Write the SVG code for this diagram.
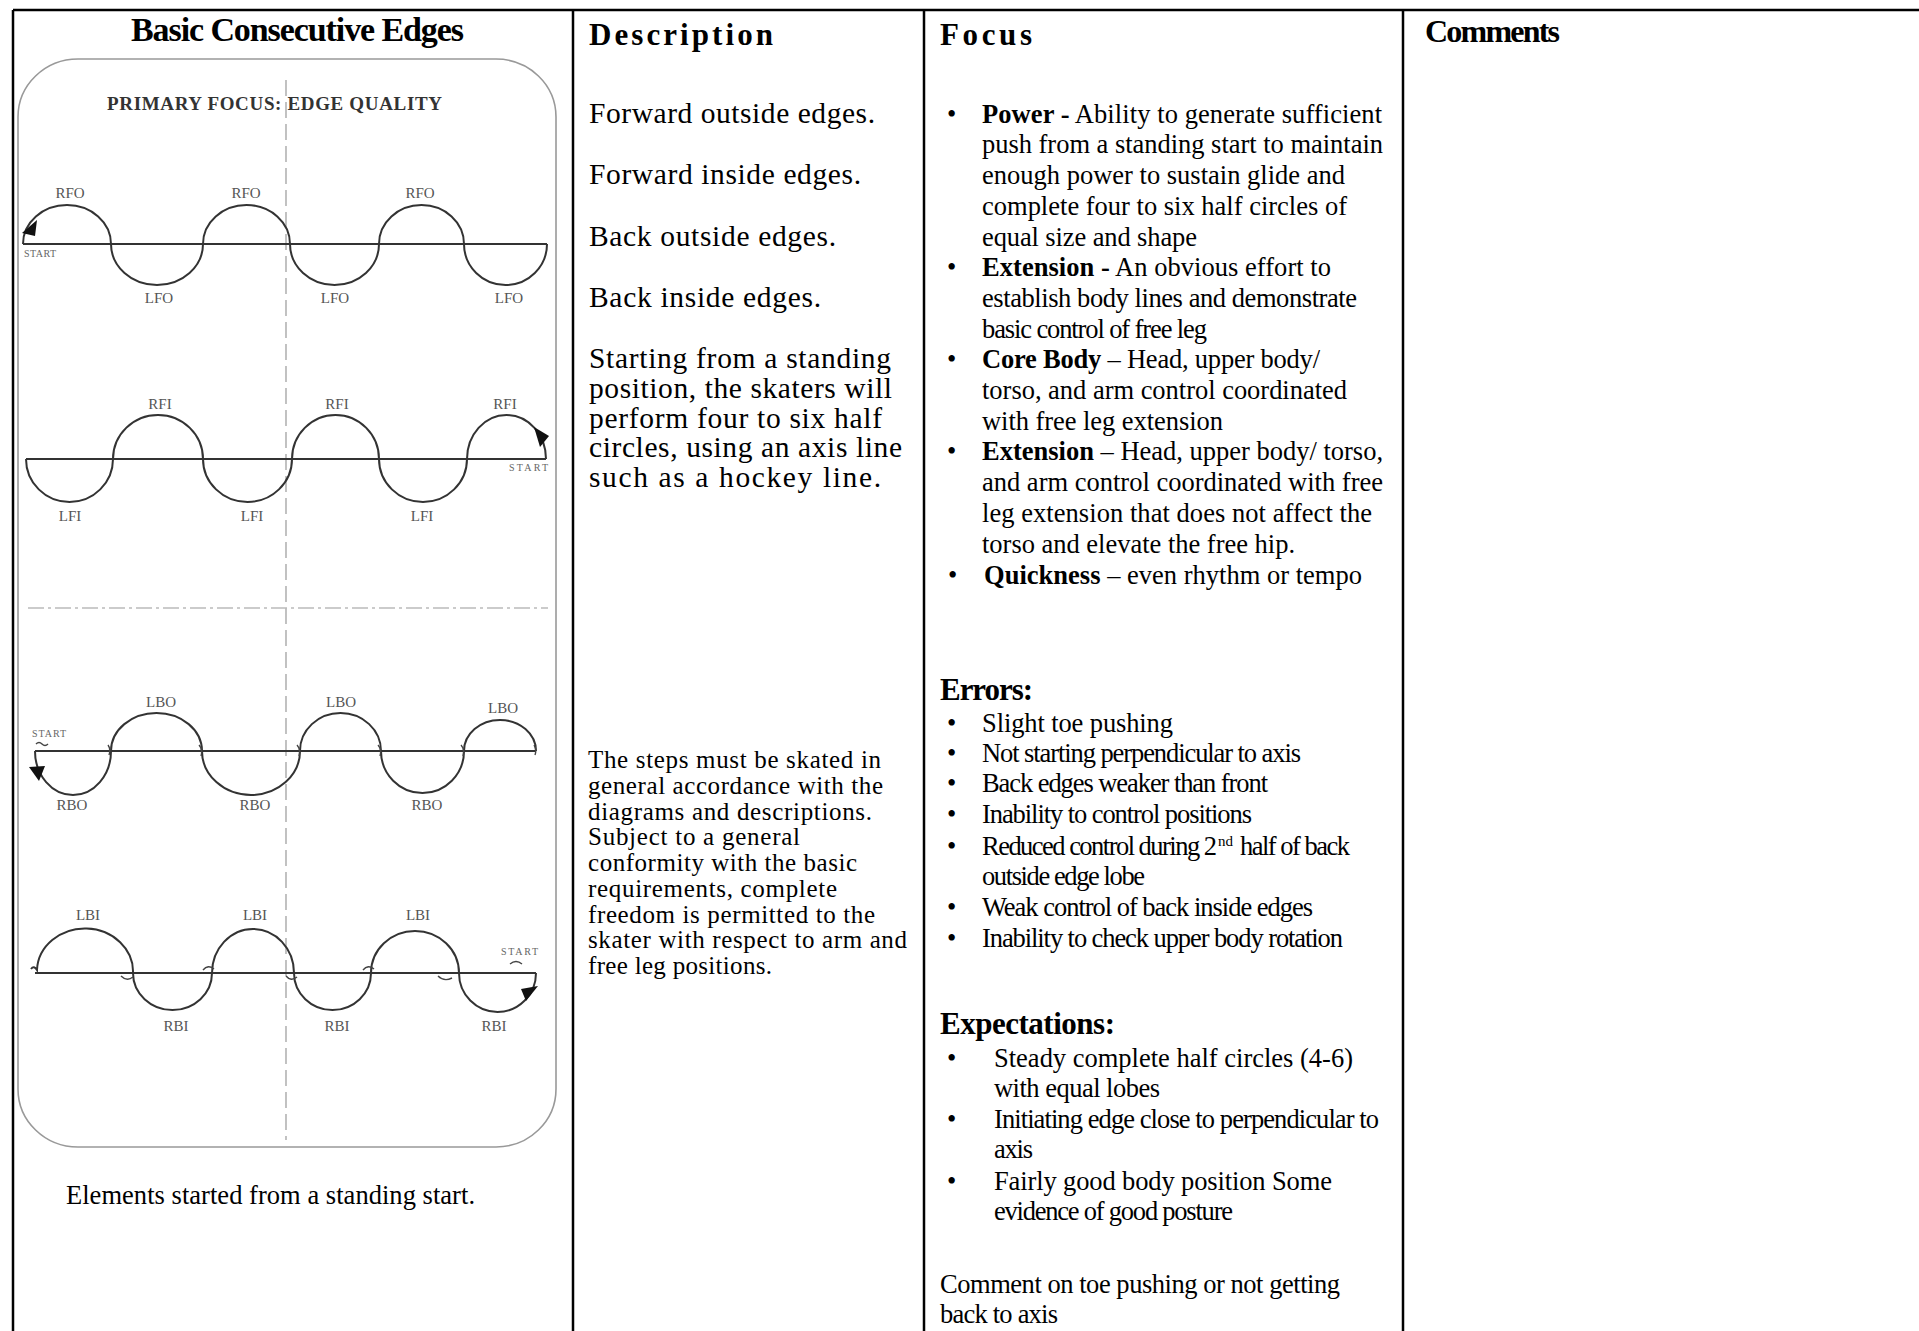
<svg xmlns="http://www.w3.org/2000/svg" width="1919" height="1331" viewBox="0 0 1919 1331">
<style>
.grid{stroke:#000;stroke-width:2.5;fill:none}
.s{font-family:"Liberation Serif","Times New Roman",serif;fill:#000}
.b{font-weight:bold}
.hd{font-family:"Liberation Serif","Times New Roman",serif;font-weight:bold;fill:#000}
.d1{font-size:29.5px}
.d2{font-size:25px}
.f{font-size:26.5px}
.lbl{font-family:"Liberation Serif","Times New Roman",serif;font-size:15px;fill:#555;text-anchor:middle}
.st{font-family:"Liberation Serif","Times New Roman",serif;font-size:10px;fill:#666}
.wave{fill:none;stroke:#333;stroke-width:2}
.hook{fill:none;stroke:#444;stroke-width:1.4}
.rink{fill:none;stroke:#999;stroke-width:1.6}
.arr{fill:#111}
</style>
<rect width="1919" height="1331" fill="#fff"/>

<g id="table-grid">
<line class="grid" x1="13" y1="10" x2="1919" y2="10"/>
<line class="grid" x1="13" y1="10" x2="13" y2="1331"/>
<line class="grid" x1="573" y1="10" x2="573" y2="1331"/>
<line class="grid" x1="924" y1="10" x2="924" y2="1331"/>
<line class="grid" x1="1403" y1="10" x2="1403" y2="1331"/>
</g>

<g id="col-diagram">
<text class="hd" x="131" y="41" font-size="34" textLength="333">Basic Consecutive Edges</text>
<g id="rink">
<rect class="rink" x="18" y="59" width="538" height="1088" rx="60" ry="58"/>
<line x1="286" y1="80" x2="286" y2="1140" stroke="#999" stroke-width="1.2" stroke-dasharray="16 6"/>
<line x1="28" y1="608" x2="548" y2="608" stroke="#bbb" stroke-width="1.6" stroke-dasharray="16 4 3 4"/>
<text class="hd" x="107" y="110" font-size="19" style="fill:#333" textLength="335">PRIMARY FOCUS: EDGE QUALITY</text>
</g>

<g id="row-forward-outside">
<line x1="23" y1="244" x2="547" y2="244" stroke="#333" stroke-width="2"/>
<path class="wave" d="M23,244 A44,39 0 0 1 111,244 A46,41 0 0 0 203,244 A43.5,39 0 0 1 290,244 A44.5,41 0 0 0 379,244 A42.5,39 0 0 1 464,244 A41.5,41 0 0 0 547,244"/>
<polygon class="arr" points="22,233 37,220 35,236"/>
<text class="st" x="24" y="257" textLength="32">START</text>
<text class="lbl" x="70" y="198">RFO</text>
<text class="lbl" x="246" y="198">RFO</text>
<text class="lbl" x="420" y="198">RFO</text>
<text class="lbl" x="159" y="303">LFO</text>
<text class="lbl" x="335" y="303">LFO</text>
<text class="lbl" x="509" y="303">LFO</text>
</g>

<g id="row-forward-inside">
<line x1="26" y1="459" x2="546" y2="459" stroke="#333" stroke-width="2"/>
<path class="wave" d="M26,459 A43.5,43 0 0 0 113,459 A45,44 0 0 1 203,459 A44.5,43 0 0 0 292,459 A43.5,44 0 0 1 379,459 A44,43 0 0 0 467,459 A39.5,44 0 0 1 546,459"/>
<polygon class="arr" points="534,427 549,436 540,447"/>
<text class="st" x="509" y="471" textLength="39">START</text>
<text class="lbl" x="160" y="409">RFI</text>
<text class="lbl" x="337" y="409">RFI</text>
<text class="lbl" x="505" y="409">RFI</text>
<text class="lbl" x="70" y="521">LFI</text>
<text class="lbl" x="252" y="521">LFI</text>
<text class="lbl" x="422" y="521">LFI</text>
</g>

<g id="row-back-outside">
<line x1="35" y1="751" x2="536" y2="751" stroke="#333" stroke-width="2"/>
<path class="wave" d="M35,751 A38,44 0 0 0 111,751 A45.5,38 0 0 1 202,751 A49,44 0 0 0 300,751 A40.5,38 0 0 1 381,751 A41.5,42 0 0 0 464,751 A36,31 0 0 1 536,751"/>
<path class="hook" d="M108,745 q3,4 1,10 M199,745 q4,4 2,11 M297,745 q4,4 2,11 M378,745 q4,4 2,11 M461,745 q4,4 2,11 M534,745 q3,4 1,10"/>
<polygon class="arr" points="29,767 45,766 39,781"/>
<text class="st" x="32" y="737" textLength="34">START</text>
<path class="hook" d="M36,744 q3,-3 6,0 t6,0"/>
<text class="lbl" x="161" y="707">LBO</text>
<text class="lbl" x="341" y="707">LBO</text>
<text class="lbl" x="503" y="713">LBO</text>
<text class="lbl" x="72" y="810">RBO</text>
<text class="lbl" x="255" y="810">RBO</text>
<text class="lbl" x="427" y="810">RBO</text>
</g>

<g id="row-back-inside">
<line x1="35" y1="973" x2="536" y2="973" stroke="#333" stroke-width="2"/>
<path class="wave" d="M31,969 Q34,965 37,970 A48,43 0 0 1 133,973 A39.5,37 0 0 0 212,973 A41,44 0 0 1 294,973 A38.5,37 0 0 0 371,973 A44,42 0 0 1 459,973 A38.5,39 0 0 0 536,973"/>
<path class="hook" d="M121,976 q6,6 12,1 M203,970 q5,-6 11,-1 M286,976 q5,6 11,1 M363,970 q5,-6 11,-1 M438,976 q6,6 14,2"/>
<polygon class="arr" points="521,989 538,986 526,1001"/>
<text class="st" x="501" y="955" textLength="37">START</text>
<path class="hook" d="M510,964 q6,-5 12,0"/>
<text class="lbl" x="88" y="920">LBI</text>
<text class="lbl" x="255" y="920">LBI</text>
<text class="lbl" x="418" y="920">LBI</text>
<text class="lbl" x="176" y="1031">RBI</text>
<text class="lbl" x="337" y="1031">RBI</text>
<text class="lbl" x="494" y="1031">RBI</text>
</g>

<text class="s f" x="66" y="1204" textLength="409">Elements started from a standing start.</text>
</g>

<g id="col-description">
<text class="hd" x="589" y="45" font-size="31" textLength="184">Description</text>
<text class="s d1" x="589" y="123" textLength="286">Forward outside edges.</text>
<text class="s d1" x="589" y="184" textLength="272">Forward inside edges.</text>
<text class="s d1" x="589" y="246" textLength="247">Back outside edges.</text>
<text class="s d1" x="589" y="307" textLength="232">Back inside edges.</text>
<text class="s d1" x="589" y="368" textLength="302">Starting from a standing</text>
<text class="s d1" x="589" y="398" textLength="303">position, the skaters will</text>
<text class="s d1" x="589" y="428" textLength="293">perform four to six half</text>
<text class="s d1" x="589" y="457" textLength="313">circles, using an axis line</text>
<text class="s d1" x="589" y="487" textLength="292">such as a hockey line.</text>

<text class="s d2" x="588" y="768" textLength="293">The steps must be skated in</text>
<text class="s d2" x="588" y="794" textLength="295">general accordance with the</text>
<text class="s d2" x="588" y="820" textLength="284">diagrams and descriptions.</text>
<text class="s d2" x="588" y="845" textLength="212">Subject to a general</text>
<text class="s d2" x="588" y="871" textLength="269">conformity with the basic</text>
<text class="s d2" x="588" y="897" textLength="249">requirements, complete</text>
<text class="s d2" x="588" y="923" textLength="287">freedom is permitted to the</text>
<text class="s d2" x="588" y="948" textLength="319">skater with respect to arm and</text>
<text class="s d2" x="588" y="974" textLength="184">free leg positions.</text>
</g>

<g id="col-focus">
<text class="hd" x="940" y="45" font-size="31" textLength="92">Focus</text>
<g class="s f">
<text x="947" y="122.7">•</text>
<text x="982" y="122.7" textLength="400"><tspan class="b">Power -</tspan> Ability to generate sufficient</text>
<text x="982" y="153.4" textLength="401">push from a standing start to maintain</text>
<text x="982" y="184.1" textLength="363">enough power to sustain glide and</text>
<text x="982" y="214.8" textLength="365">complete four to six half circles of</text>
<text x="982" y="245.5" textLength="215">equal size and shape</text>
<text x="947" y="276.2">•</text>
<text x="982" y="276.2" textLength="349"><tspan class="b">Extension -</tspan> An obvious effort to</text>
<text x="982" y="306.9" textLength="375">establish body lines and demonstrate</text>
<text x="982" y="337.6" textLength="225">basic control of free leg</text>
<text x="947" y="368.3">•</text>
<text x="982" y="368.3" textLength="338"><tspan class="b">Core Body</tspan> – Head, upper body/</text>
<text x="982" y="399" textLength="365">torso, and arm control coordinated</text>
<text x="982" y="429.7" textLength="241">with free leg extension</text>
<text x="947" y="460.4">•</text>
<text x="982" y="460.4" textLength="401"><tspan class="b">Extension</tspan> – Head, upper body/ torso,</text>
<text x="982" y="491.1" textLength="401">and arm control coordinated with free</text>
<text x="982" y="521.8" textLength="390">leg extension that does not affect the</text>
<text x="982" y="552.5" textLength="313">torso and elevate the free hip.</text>
<text x="948" y="583.5">•</text>
<text x="984" y="583.5" textLength="378"><tspan class="b">Quickness</tspan> – even rhythm or tempo</text>
</g>

<text class="hd" x="940" y="700" font-size="31" textLength="93">Errors:</text>
<g class="s f">
<text x="947" y="732">•</text>
<text x="982" y="732" textLength="191">Slight toe pushing</text>
<text x="947" y="762">•</text>
<text x="982" y="762" textLength="319">Not starting perpendicular to axis</text>
<text x="947" y="792">•</text>
<text x="982" y="792" textLength="286">Back edges weaker than front</text>
<text x="947" y="823">•</text>
<text x="982" y="823" textLength="270">Inability to control positions</text>
<text x="947" y="855">•</text>
<text x="982" y="855" textLength="235">Reduced control during 2</text>
<text x="1218" y="846" font-size="15" textLength="15">nd</text>
<text x="1240" y="855" textLength="110">half of back</text>
<text x="982" y="885" textLength="163">outside edge lobe</text>
<text x="947" y="916">•</text>
<text x="982" y="916" textLength="331">Weak control of back inside edges</text>
<text x="947" y="947">•</text>
<text x="982" y="947" textLength="361">Inability to check upper body rotation</text>
</g>

<text class="hd" x="940" y="1034" font-size="31" textLength="175">Expectations:</text>
<g class="s f">
<text x="947" y="1067">•</text>
<text x="994" y="1067" textLength="359">Steady complete half circles (4-6)</text>
<text x="994" y="1097" textLength="166">with equal lobes</text>
<text x="947" y="1128">•</text>
<text x="994" y="1128" textLength="385">Initiating edge close to perpendicular to</text>
<text x="994" y="1158" textLength="39">axis</text>
<text x="947" y="1190">•</text>
<text x="994" y="1190" textLength="338">Fairly good body position Some</text>
<text x="994" y="1220" textLength="239">evidence of good posture</text>
<text x="940" y="1293" textLength="400">Comment on toe pushing or not getting</text>
<text x="940" y="1323" textLength="118">back to axis</text>
</g>
</g>

<g id="col-comments">
<text class="hd" x="1425" y="42" font-size="32" textLength="135">Comments</text>
</g>
</svg>
